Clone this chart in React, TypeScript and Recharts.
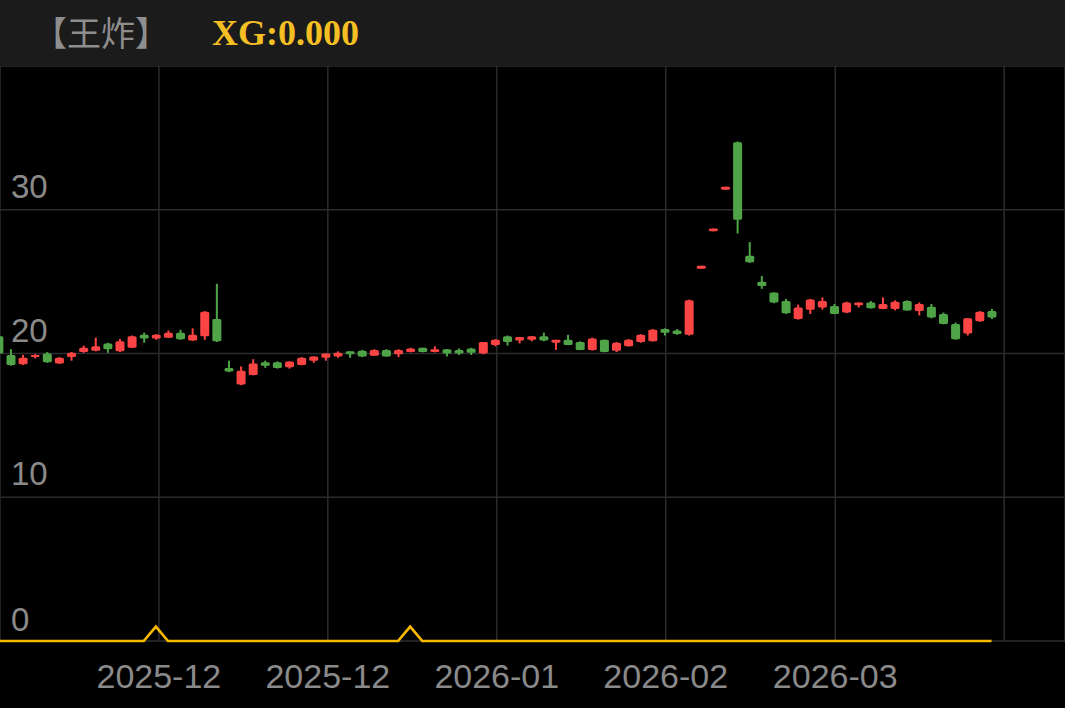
import React from 'react';
import { ComposedChart, Bar, Line, XAxis, YAxis, CartesianGrid } from 'recharts';

// daily candles, oldest first (index 0 is cut off at the left edge)
const opens = [
  21.2, 19.9, 19.25, 19.75, 20.0, 19.3, 19.75, 20.1, 20.2, 20.7,
  20.15, 20.4, 21.3, 21.05, 21.1, 21.45, 20.9, 21.2, 22.4, 19.0,
  17.85, 18.5, 19.4, 19.4, 19.05, 19.2, 19.5, 19.7, 19.8, 20.15,
  20.2, 19.85, 20.25, 19.95, 20.1, 20.4, 20.1, 20.3, 20.25, 20.35,
  20.0, 20.6, 21.2, 20.9, 20.95, 21.2, 20.75, 20.95, 20.8, 20.25,
  20.95, 20.2, 20.5, 20.8, 20.85, 21.7, 21.6, 21.3, 25.9, 28.5,
  31.4, 34.7, 26.8, 25.0, 24.25, 23.65, 22.4, 23.05, 23.2, 23.3,
  22.85, 23.35, 23.55, 23.1, 23.1, 23.65, 22.95, 23.25, 22.75, 22.05,
  21.4, 22.25, 22.95,
];
const highs = [
  21.3, 20.3, 19.9, 19.95, 20.1, 19.75, 20.1, 20.55, 21.1, 20.75,
  21.0, 21.25, 21.45, 21.35, 21.6, 21.65, 21.75, 22.95, 24.85, 19.5,
  19.1, 19.6, 19.5, 19.45, 19.45, 19.75, 19.8, 20.0, 20.15, 20.15,
  20.25, 20.3, 20.3, 20.3, 20.4, 20.4, 20.5, 20.3, 20.35, 20.4,
  20.8, 21.0, 21.25, 21.15, 21.2, 21.45, 20.95, 21.3, 20.85, 21.1,
  20.95, 20.8, 21.0, 21.35, 21.7, 21.75, 21.7, 23.75, 26.1, 28.7,
  31.6, 34.75, 27.75, 25.4, 24.25, 23.8, 23.4, 23.8, 23.9, 23.45,
  23.6, 23.55, 23.65, 23.9, 23.7, 23.7, 23.55, 23.45, 22.85, 22.15,
  22.45, 22.95, 23.1,
];
const lows = [
  19.9, 19.15, 19.2, 19.65, 19.35, 19.28, 19.5, 20.05, 20.15, 20.05,
  20.1, 20.38, 20.75, 20.95, 21.08, 20.95, 20.88, 20.95, 20.8, 18.7,
  17.8, 18.48, 19.0, 18.95, 18.95, 19.18, 19.35, 19.5, 19.7, 19.7,
  19.75, 19.83, 19.78, 19.75, 20.08, 20.08, 20.08, 19.8, 19.9, 19.9,
  19.95, 20.5, 20.55, 20.7, 20.85, 20.85, 20.25, 20.58, 20.23, 20.2,
  20.08, 20.1, 20.48, 20.75, 20.83, 21.25, 21.3, 21.25, 25.9, 28.5,
  31.4, 28.35, 26.3, 24.5, 23.5, 22.75, 22.35, 22.75, 23.05, 22.73,
  22.8, 23.2, 23.13, 23.08, 23.0, 22.98, 22.65, 22.45, 22.03, 20.95,
  21.25, 22.2, 22.4,
];
const closes = [
  20.0, 19.2, 19.7, 19.9, 19.4, 19.7, 20.05, 20.4, 20.5, 20.3,
  20.85, 21.2, 21.05, 21.3, 21.45, 21.0, 21.3, 22.9, 20.85, 18.75,
  18.8, 19.3, 19.15, 19.0, 19.45, 19.7, 19.8, 20.0, 20.05, 19.95,
  19.8, 20.25, 19.8, 20.25, 20.35, 20.1, 20.3, 20.0, 20.0, 20.05,
  20.8, 20.95, 20.8, 21.15, 21.2, 20.9, 20.95, 20.6, 20.25, 21.05,
  20.1, 20.75, 20.95, 21.3, 21.65, 21.45, 21.35, 23.7, 26.1, 28.7,
  31.6, 29.3, 26.35, 24.7, 23.55, 22.8, 23.2, 23.75, 23.65, 22.75,
  23.55, 23.55, 23.15, 23.45, 23.6, 23.0, 23.45, 22.5, 22.05, 21.0,
  22.45, 22.9, 22.5,
];
// XG signal line
const xg = [
  0, 0, 0, 0, 0, 0, 0, 0, 0, 0,
  0, 0, 0, 1, 0, 0, 0, 0, 0, 0,
  0, 0, 0, 0, 0, 0, 0, 0, 0, 0,
  0, 0, 0, 0, 1, 0, 0, 0, 0, 0,
  0, 0, 0, 0, 0, 0, 0, 0, 0, 0,
  0, 0, 0, 0, 0, 0, 0, 0, 0, 0,
  0, 0, 0, 0, 0, 0, 0, 0, 0, 0,
  0, 0, 0, 0, 0, 0, 0, 0, 0, 0,
  0, 0, 0,
];

const xTicks = [13.25, 27.2, 41.15, 55.1, 69.1, 83.05];
const xTickLabels = ['2025-12', '2025-12', '2026-01', '2026-02', '2026-03', ''];
const yTicks = [0, 10, 20, 30];

const RED = '#fd4444';
const GREEN = '#4fa448';
const GRID = '#2c2c30';
const LABEL = '#8a8a8a';

const data = opens.map((o, i) => ({
  i,
  o,
  h: highs[i],
  l: lows[i],
  c: closes[i],
  range: [lows[i], highs[i]],
  xg: xg[i],
}));

const Candle = (props: any) => {
  const { x, y, width, height, payload } = props;
  if (!payload) return null;
  const { o, h, l, c } = payload;
  const top = Math.min(y, y + height);
  const bot = Math.max(y, y + height);
  const k = h - l > 0 ? (bot - top) / (h - l) : 0;
  const py = (v: number) => top + (h - v) * k;
  const cx = x + width / 2;
  const color = c >= o ? RED : GREEN;
  const bTop = py(Math.max(o, c));
  const bH = Math.max(1.5, py(Math.min(o, c)) - bTop);
  return (
    <g>
      <rect x={cx - 1} y={top} width={2} height={bot - top} fill={color} />
      <rect x={cx - 4.5} y={bTop} width={9} height={bH} rx={1.5} fill={color} />
    </g>
  );
};

const XTick = (props: any) => {
  const { x, y, payload } = props;
  const idx = xTicks.indexOf(payload.value);
  return (
    <text x={x} y={y + 45} textAnchor="middle" fill={LABEL} fontSize={34} fontFamily="'Liberation Sans', Arial, sans-serif">
      {xTickLabels[idx]}
    </text>
  );
};

const YTick = (props: any) => {
  const { y, payload } = props;
  return (
    <text x={11} y={y - (payload.value === 0 ? 10 : 12)} textAnchor="start" fill={LABEL} fontSize={33} fontFamily="'Liberation Sans', Arial, sans-serif">
      {payload.value}
    </text>
  );
};

export default function App() {
  return (
    <div style={{ width: 1065, height: 708, background: '#000', position: 'relative', overflow: 'hidden' }}>
      <style>{'body{margin:0;background:#000}'}</style>
      <svg width={1065} height={66} style={{ display: 'block' }}>
        <rect x={0} y={0} width={1065} height={66} fill="#1b1b1b" />
        <text x={33} y={46} fill="#8e8e8e" fontSize={34} fontFamily="'Noto Sans CJK SC', sans-serif">
          【王炸】
        </text>
        <text x={212} y={45} fill="#f5bf24" fontSize={36} fontWeight="bold" fontFamily="'Liberation Serif', 'Times New Roman', serif">
          XG:0.000
        </text>
      </svg>
      <ComposedChart width={1065} height={642} data={data} margin={{ top: 0, right: 0, bottom: 0, left: 0 }}>
        <CartesianGrid stroke={GRID} strokeWidth={1.5} />
        <XAxis
          dataKey="i"
          type="number"
          domain={[0.13, 88.07]}
          allowDataOverflow
          ticks={xTicks}
          interval={0}
          height={67}
          axisLine={false}
          tickLine={false}
          tickSize={0}
          tick={<XTick />}
        />
        <YAxis
          type="number"
          domain={[0, 40]}
          ticks={yTicks}
          interval={0}
          mirror
          axisLine={false}
          tickLine={false}
          tickSize={0}
          tick={<YTick />}
        />
        <Bar dataKey="range" barSize={9} shape={<Candle />} isAnimationActive={false} />
        <Line dataKey="xg" type="linear" stroke="#f7b800" strokeWidth={2.7} dot={false} activeDot={false} isAnimationActive={false} />
      </ComposedChart>
    </div>
  );
}
